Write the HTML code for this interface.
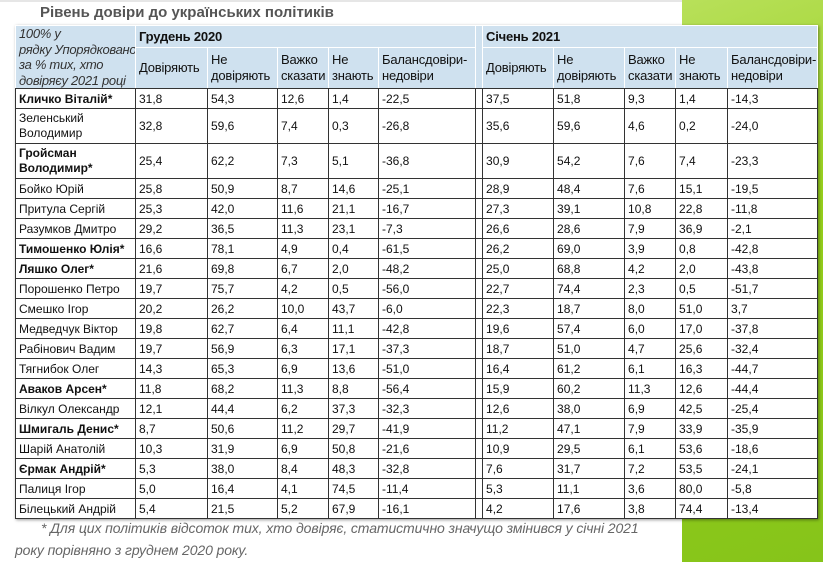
<!DOCTYPE html>
<html><head><meta charset="utf-8"><style>
body{margin:0;width:823px;height:562px;position:relative;overflow:hidden;background:#fff;font-family:"Liberation Sans",Arial,sans-serif;}
.green{position:absolute;left:682px;top:0;width:141px;height:562px;background:linear-gradient(160deg,#b8e05a 0%,#96cf1c 40%,#86c41a 100%);}
.topbar{position:absolute;left:0;top:0;width:682px;height:2px;background:#e6e6e6;}
.title{position:absolute;left:40px;top:4px;font-size:15px;font-weight:bold;color:#555;}
table{position:absolute;left:15px;top:25px;width:802px;border-collapse:collapse;table-layout:fixed;font-size:12px;color:#111;background:#fff;box-shadow:1px 1px 3px rgba(0,0,0,.4);}
td{border:1px solid #333;padding:0 3px;height:19px;line-height:14px;vertical-align:middle;overflow:hidden;white-space:nowrap;}
tr.h td{background:#cfe1ef;border:1px dotted #fff;vertical-align:top;font-size:13px;line-height:16px;white-space:normal;letter-spacing:-0.2px;}
tr.h1 td{height:21px;font-weight:bold;vertical-align:middle;}
tr.h2 td{height:40px;vertical-align:middle;}
.it{font-style:italic;color:#333;}
.b{font-weight:bold;}
td.g{padding:0;}
tr.t td{height:34px;line-height:15px;}
.foot{position:absolute;left:15px;top:517px;width:660px;font-size:14px;font-style:italic;color:#666;line-height:22px;text-indent:26px;letter-spacing:-0.1px;white-space:nowrap;}
</style></head><body>
<div class="topbar"></div>
<div class="green"></div>
<div class="title">Рівень довіри до українських політиків</div>
<table>
<colgroup><col style="width:120px"><col style="width:72px"><col style="width:70px"><col style="width:51px"><col style="width:50px"><col style="width:97px"><col style="width:7px"><col style="width:71px"><col style="width:71px"><col style="width:51px"><col style="width:52px"><col style="width:90px"></colgroup>
<tr class="h h1"><td rowspan="2" class="it" style="font-weight:normal;vertical-align:top;line-height:15.5px;font-size:13px;white-space:nowrap;letter-spacing:-0.3px">100% у<br>рядку Упорядковано<br>за % тих, хто<br>довіряєу 2021 році</td><td colspan="5">Грудень 2020</td><td rowspan="2" class="g"></td><td colspan="5">Січень 2021</td></tr>
<tr class="h h2"><td>Довіряють</td><td>Не довіряють</td><td>Важко сказати</td><td>Не знають</td><td>Балансдовіри-недовіри</td><td>Довіряють</td><td>Не довіряють</td><td>Важко сказати</td><td>Не знають</td><td>Балансдовіри-недовіри</td></tr>
<tr><td class="b">Кличко Віталій*</td><td>31,8</td><td>54,3</td><td>12,6</td><td>1,4</td><td>-22,5</td><td class="g"></td><td>37,5</td><td>51,8</td><td>9,3</td><td>1,4</td><td>-14,3</td></tr>
<tr class="t"><td>Зеленський<br>Володимир</td><td>32,8</td><td>59,6</td><td>7,4</td><td>0,3</td><td>-26,8</td><td class="g"></td><td>35,6</td><td>59,6</td><td>4,6</td><td>0,2</td><td>-24,0</td></tr>
<tr class="t"><td class="b">Гройсман<br>Володимир*</td><td>25,4</td><td>62,2</td><td>7,3</td><td>5,1</td><td>-36,8</td><td class="g"></td><td>30,9</td><td>54,2</td><td>7,6</td><td>7,4</td><td>-23,3</td></tr>
<tr><td>Бойко Юрій</td><td>25,8</td><td>50,9</td><td>8,7</td><td>14,6</td><td>-25,1</td><td class="g"></td><td>28,9</td><td>48,4</td><td>7,6</td><td>15,1</td><td>-19,5</td></tr>
<tr><td>Притула Сергій</td><td>25,3</td><td>42,0</td><td>11,6</td><td>21,1</td><td>-16,7</td><td class="g"></td><td>27,3</td><td>39,1</td><td>10,8</td><td>22,8</td><td>-11,8</td></tr>
<tr><td>Разумков Дмитро</td><td>29,2</td><td>36,5</td><td>11,3</td><td>23,1</td><td>-7,3</td><td class="g"></td><td>26,6</td><td>28,6</td><td>7,9</td><td>36,9</td><td>-2,1</td></tr>
<tr><td class="b">Тимошенко Юлія*</td><td>16,6</td><td>78,1</td><td>4,9</td><td>0,4</td><td>-61,5</td><td class="g"></td><td>26,2</td><td>69,0</td><td>3,9</td><td>0,8</td><td>-42,8</td></tr>
<tr><td class="b">Ляшко Олег*</td><td>21,6</td><td>69,8</td><td>6,7</td><td>2,0</td><td>-48,2</td><td class="g"></td><td>25,0</td><td>68,8</td><td>4,2</td><td>2,0</td><td>-43,8</td></tr>
<tr><td>Порошенко Петро</td><td>19,7</td><td>75,7</td><td>4,2</td><td>0,5</td><td>-56,0</td><td class="g"></td><td>22,7</td><td>74,4</td><td>2,3</td><td>0,5</td><td>-51,7</td></tr>
<tr><td>Смешко Ігор</td><td>20,2</td><td>26,2</td><td>10,0</td><td>43,7</td><td>-6,0</td><td class="g"></td><td>22,3</td><td>18,7</td><td>8,0</td><td>51,0</td><td>3,7</td></tr>
<tr><td>Медведчук Віктор</td><td>19,8</td><td>62,7</td><td>6,4</td><td>11,1</td><td>-42,8</td><td class="g"></td><td>19,6</td><td>57,4</td><td>6,0</td><td>17,0</td><td>-37,8</td></tr>
<tr><td>Рабінович Вадим</td><td>19,7</td><td>56,9</td><td>6,3</td><td>17,1</td><td>-37,3</td><td class="g"></td><td>18,7</td><td>51,0</td><td>4,7</td><td>25,6</td><td>-32,4</td></tr>
<tr><td>Тягнибок Олег</td><td>14,3</td><td>65,3</td><td>6,9</td><td>13,6</td><td>-51,0</td><td class="g"></td><td>16,4</td><td>61,2</td><td>6,1</td><td>16,3</td><td>-44,7</td></tr>
<tr><td class="b">Аваков Арсен*</td><td>11,8</td><td>68,2</td><td>11,3</td><td>8,8</td><td>-56,4</td><td class="g"></td><td>15,9</td><td>60,2</td><td>11,3</td><td>12,6</td><td>-44,4</td></tr>
<tr><td>Вілкул Олександр</td><td>12,1</td><td>44,4</td><td>6,2</td><td>37,3</td><td>-32,3</td><td class="g"></td><td>12,6</td><td>38,0</td><td>6,9</td><td>42,5</td><td>-25,4</td></tr>
<tr><td class="b">Шмигаль Денис*</td><td>8,7</td><td>50,6</td><td>11,2</td><td>29,7</td><td>-41,9</td><td class="g"></td><td>11,2</td><td>47,1</td><td>7,9</td><td>33,9</td><td>-35,9</td></tr>
<tr><td>Шарій Анатолій</td><td>10,3</td><td>31,9</td><td>6,9</td><td>50,8</td><td>-21,6</td><td class="g"></td><td>10,9</td><td>29,5</td><td>6,1</td><td>53,6</td><td>-18,6</td></tr>
<tr><td class="b">Єрмак Андрій*</td><td>5,3</td><td>38,0</td><td>8,4</td><td>48,3</td><td>-32,8</td><td class="g"></td><td>7,6</td><td>31,7</td><td>7,2</td><td>53,5</td><td>-24,1</td></tr>
<tr><td>Палиця Ігор</td><td>5,0</td><td>16,4</td><td>4,1</td><td>74,5</td><td>-11,4</td><td class="g"></td><td>5,3</td><td>11,1</td><td>3,6</td><td>80,0</td><td>-5,8</td></tr>
<tr><td>Білецький Андрій</td><td>5,4</td><td>21,5</td><td>5,2</td><td>67,9</td><td>-16,1</td><td class="g"></td><td>4,2</td><td>17,6</td><td>3,8</td><td>74,4</td><td>-13,4</td></tr>
</table>
<div class="foot">* Для цих політиків відсоток тих, хто довіряє, статистично значущо змінився у січні 2021<br>року порівняно з груднем 2020 року.</div>
</body></html>
